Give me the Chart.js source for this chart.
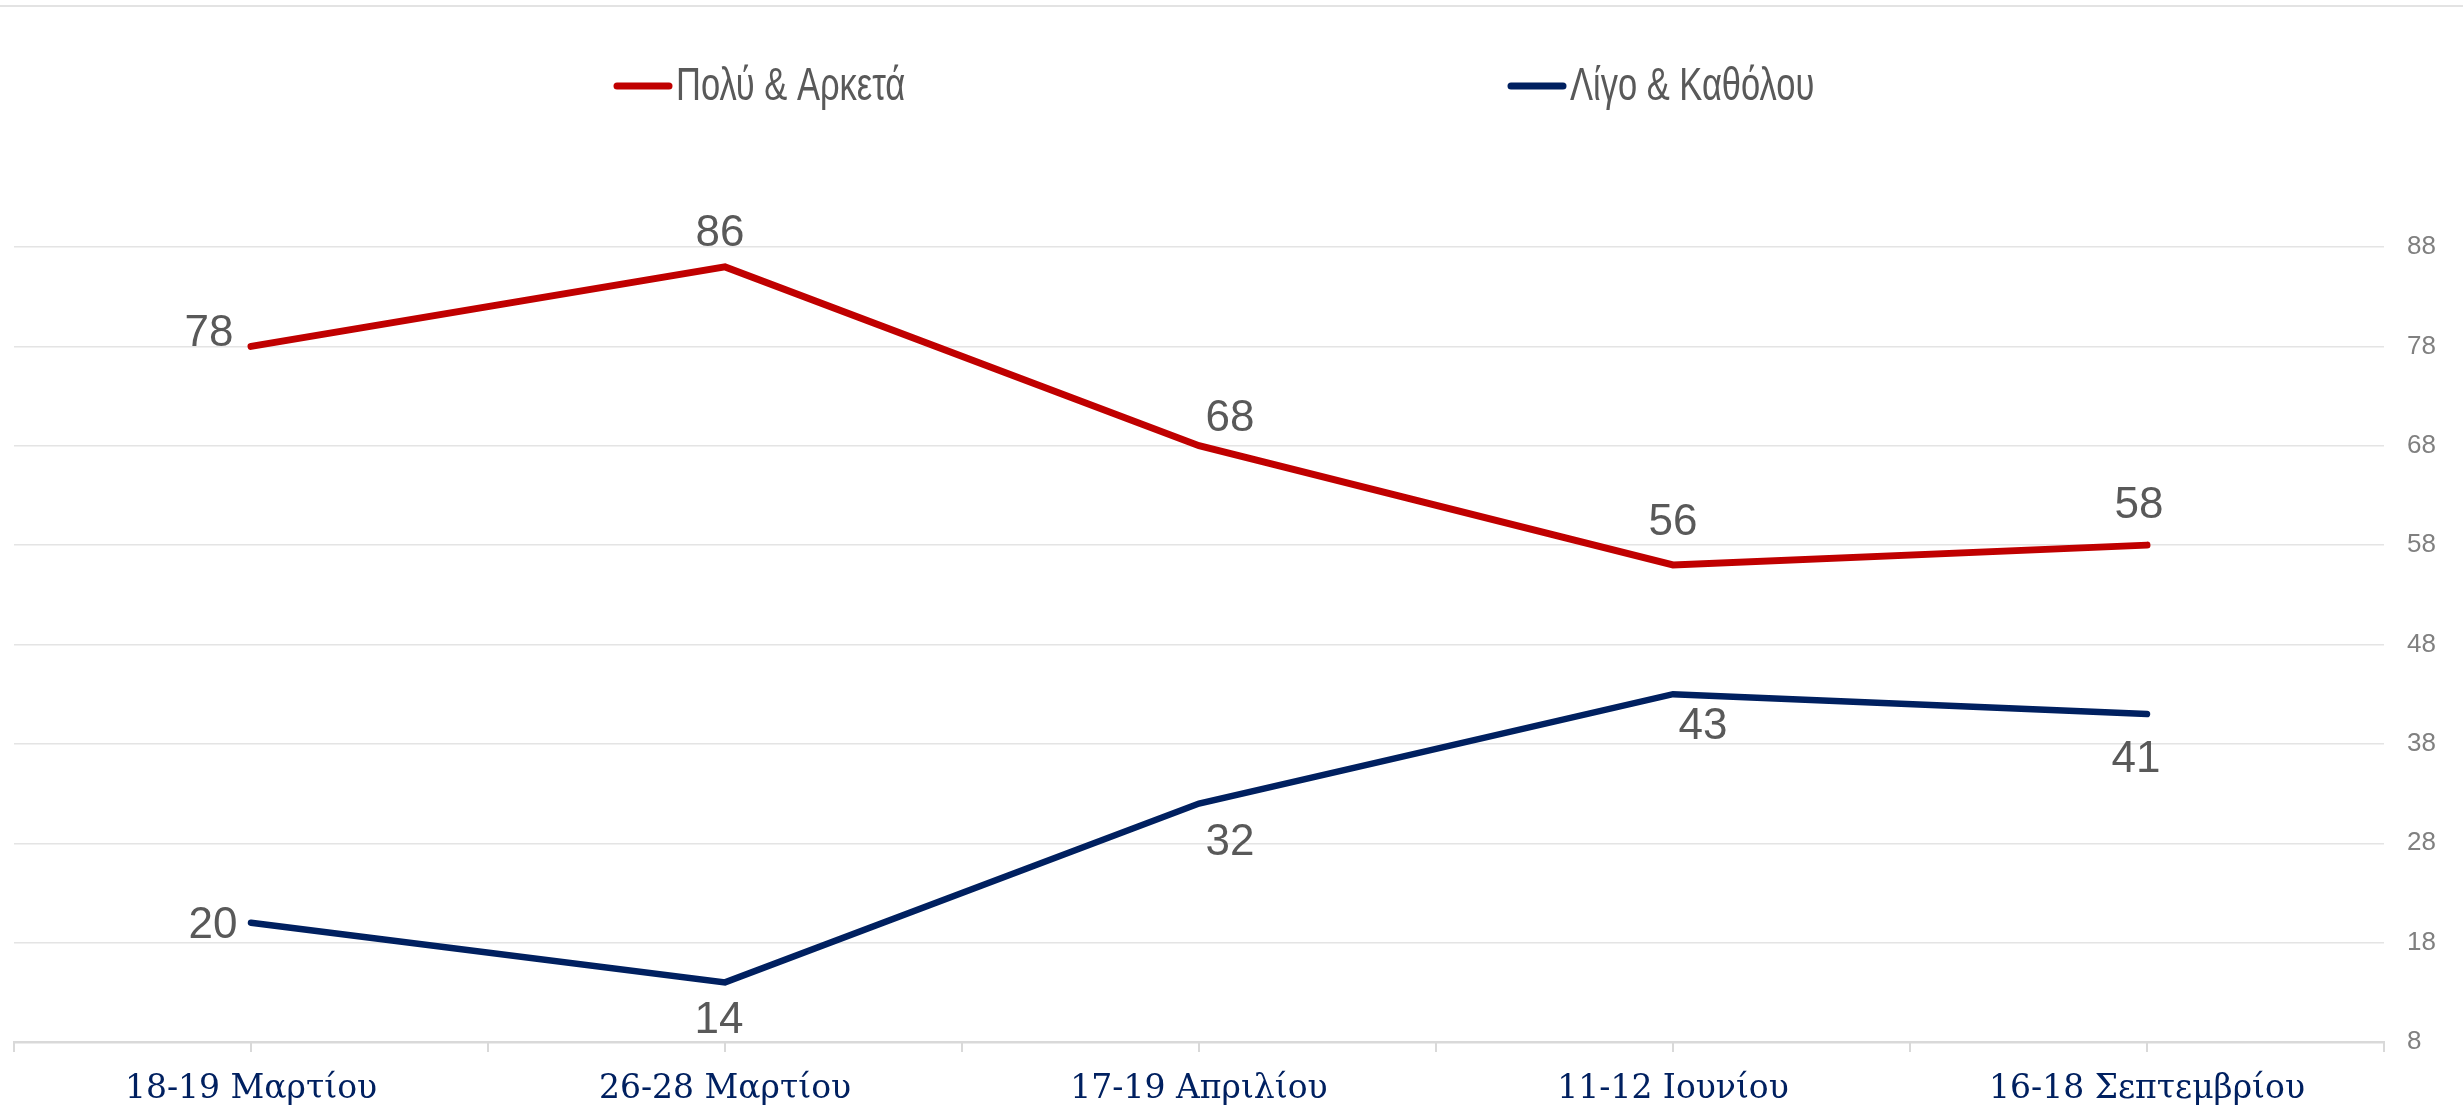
<!DOCTYPE html>
<html>
<head>
<meta charset="utf-8">
<script src="https://cdn.jsdelivr.net/npm/chart.js@4.4.1/dist/chart.umd.min.js"></script>
<style>
  body { margin: 0; background: #fff; }
  #wrap { width: 2463px; height: 1111px; }
</style>
</head>
<body>
<div id="wrap"><canvas id="trendChart" width="2463" height="1111"></canvas></div>
<script>
// data
const periods = ['18-19 Μαρτίου', '26-28 Μαρτίου', '17-19 Απριλίου', '11-12 Ιουνίου', '16-18 Σεπτεμβρίου'];
const muchValues = [78, 86, 68, 56, 58];
const littleValues = [20, 14, 32, 43, 41];
const yTicks = [8, 18, 28, 38, 48, 58, 68, 78, 88];

// label offsets from the point (style only)
const muchLabelOffsets = [[-42, -13], [-5, -33], [31, -27], [0, -42], [-8, -39]];
const littleLabelOffsets = [[-38, 3], [-6, 38], [31, 39], [30, 33], [-11, 46]];

const topRule = {
    id: 'topRule',
    beforeDraw(chart) {
        const ctx = chart.ctx;
        ctx.save();
        ctx.strokeStyle = '#e3e3e3';
        ctx.lineWidth = 2;
        ctx.beginPath();
        ctx.moveTo(0, 6);
        ctx.lineTo(chart.width, 6);
        ctx.stroke();
        ctx.restore();
    }
};

// tick marks on x axis: at category borders and centers
const xTickMarks = {
    id: 'xTickMarks',
    afterDraw(chart) {
        const x = chart.scales.x;
        const ctx = chart.ctx;
        const y0 = chart.chartArea.bottom;
        ctx.save();
        ctx.strokeStyle = '#d9d9d9';
        ctx.lineWidth = 2;
        for (let i = -0.5; i <= periods.length - 0.5; i += 0.5) {
            const px = Math.round(x.getPixelForValue(i));
            ctx.beginPath();
            ctx.moveTo(px, y0);
            ctx.lineTo(px, y0 + 10);
            ctx.stroke();
        }
        ctx.restore();
    }
};

const valueLabels = {
    id: 'valueLabels',
    afterDatasetsDraw(chart) {
        const ctx = chart.ctx;
        const offsets = [muchLabelOffsets, littleLabelOffsets];
        ctx.save();
        ctx.font = '44px "Liberation Sans", Arial, sans-serif';
        ctx.fillStyle = '#595959';
        ctx.textAlign = 'center';
        ctx.textBaseline = 'middle';
        chart.data.datasets.forEach((ds, d) => {
            chart.getDatasetMeta(d).data.forEach((pt, i) => {
                const [dx, dy] = offsets[d][i];
                ctx.fillText(String(ds.data[i]), pt.x + dx, pt.y + dy);
            });
        });
        ctx.restore();
    }
};

// legend drawn by hand to get the wide gap between the two entries
const wideLegend = {
    id: 'wideLegend',
    afterDraw(chart) {
        const ctx = chart.ctx;
        const starts = [614, 1508];
        const y = 86;
        ctx.save();
        ctx.font = '46px "Liberation Sans", Arial, sans-serif';
        ctx.textBaseline = 'middle';
        ctx.textAlign = 'left';
        chart.data.datasets.forEach((ds, d) => {
            const x = starts[d];
            ctx.strokeStyle = ds.borderColor;
            ctx.lineWidth = 7;
            ctx.lineCap = 'round';
            ctx.beginPath();
            ctx.moveTo(x + 3, y);
            ctx.lineTo(x + 55, y);
            ctx.stroke();
            ctx.fillStyle = '#595959';
            const w = ctx.measureText(ds.label).width;
            ctx.fillText(ds.label, x + 62, y + 1, w * 0.75);
        });
        ctx.restore();
    }
};

new Chart(document.getElementById('trendChart'), {
    type: 'line',
    data: {
        labels: periods,
        datasets: [
            {
                label: 'Πολύ & Αρκετά',
                data: muchValues,
                borderColor: '#c00000',
                borderWidth: 7,
                borderCapStyle: 'round',
                pointRadius: 0,
                tension: 0
            },
            {
                label: 'Λίγο & Καθόλου',
                data: littleValues,
                borderColor: '#002060',
                borderWidth: 6.5,
                borderCapStyle: 'round',
                pointRadius: 0,
                tension: 0
            }
        ]
    },
    options: {
        responsive: false,
        animation: false,
        layout: { padding: { left: 14, top: 247, right: 0, bottom: 0 } },
        plugins: {
            legend: { display: false },
            tooltip: { enabled: false }
        },
        scales: {
            x: {
                offset: true,
                grid: { drawOnChartArea: false, drawTicks: false },
                border: { color: '#d9d9d9', width: 2.5 },
                ticks: {
                    padding: 28,
                    color: '#002060',
                    font: { family: '"DejaVu Serif", serif', size: 33 },
                    maxRotation: 0
                },
                afterFit: scale => { scale.height = 69; }
            },
            y: {
                position: 'right',
                min: 8,
                max: 88,
                afterBuildTicks: scale => { scale.ticks = yTicks.map(v => ({ value: v })); },
                grid: { color: '#e4e4e4', lineWidth: 1.5, drawTicks: false },
                border: { display: false },
                ticks: {
                    padding: 23,
                    color: '#808080',
                    font: { family: '"Liberation Sans", Arial, sans-serif', size: 26 }
                },
                afterFit: scale => { scale.width = 79; }
            }
        }
    },
    plugins: [topRule, xTickMarks, valueLabels, wideLegend]
});
</script>
</body>
</html>
